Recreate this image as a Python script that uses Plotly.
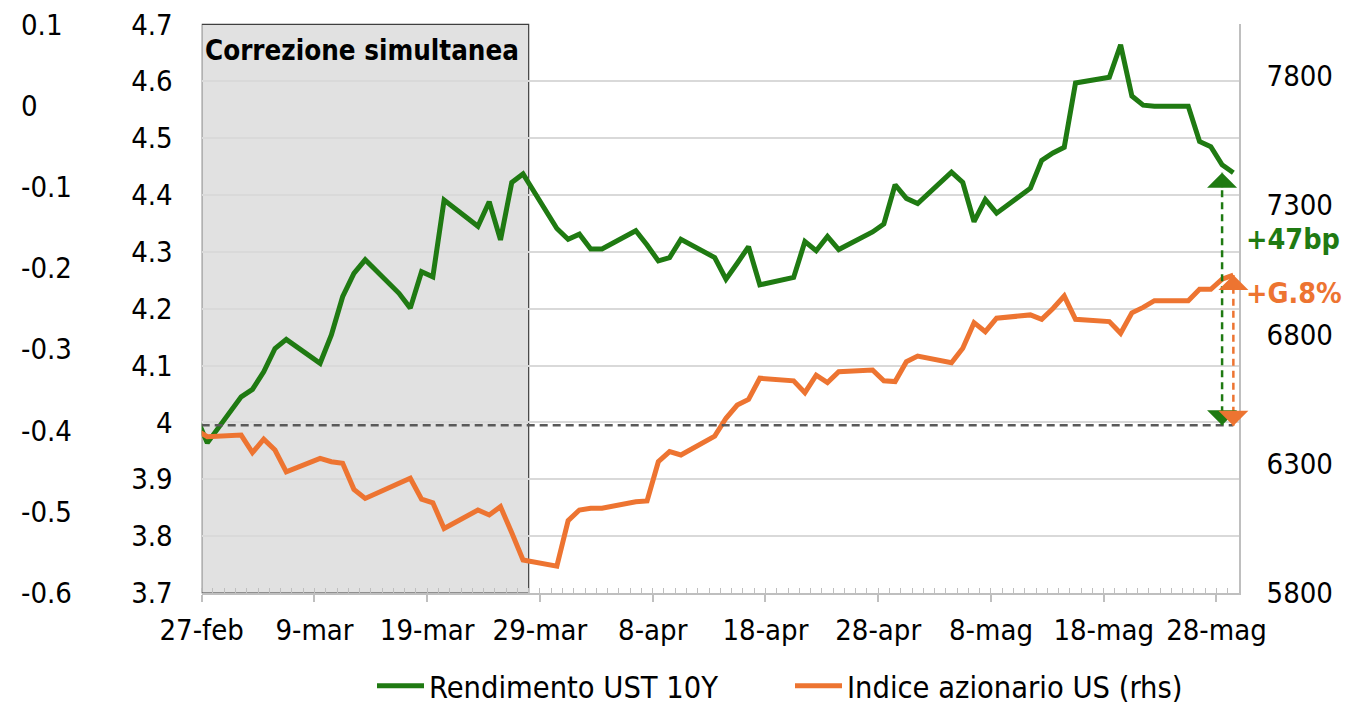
import pandas as pd
import plotly.graph_objects as go

# giorni di contrattazione 2026 (il 26-feb cade appena fuori dall'asse)
date = [
    "2026-02-26", "2026-02-27",
    "2026-03-02", "2026-03-03", "2026-03-04", "2026-03-05", "2026-03-06",
    "2026-03-09", "2026-03-10", "2026-03-11", "2026-03-12", "2026-03-13",
    "2026-03-16", "2026-03-17", "2026-03-18", "2026-03-19", "2026-03-20",
    "2026-03-23", "2026-03-24", "2026-03-25", "2026-03-26", "2026-03-27",
    "2026-03-30", "2026-03-31", "2026-04-01", "2026-04-02", "2026-04-03",
    "2026-04-06", "2026-04-07", "2026-04-08", "2026-04-09", "2026-04-10",
    "2026-04-13", "2026-04-14", "2026-04-15", "2026-04-16", "2026-04-17",
    "2026-04-20", "2026-04-21", "2026-04-22", "2026-04-23", "2026-04-24",
    "2026-04-27", "2026-04-28", "2026-04-29", "2026-04-30", "2026-05-01",
    "2026-05-04", "2026-05-05", "2026-05-06", "2026-05-07", "2026-05-08",
    "2026-05-11", "2026-05-12", "2026-05-13", "2026-05-14", "2026-05-15",
    "2026-05-18", "2026-05-19", "2026-05-20", "2026-05-21", "2026-05-22",
    "2026-05-25", "2026-05-26", "2026-05-27", "2026-05-28", "2026-05-29",
]

rendimento_ust10y = [
    4.010, 3.964,
    4.045, 4.058, 4.089, 4.130, 4.146,
    4.104, 4.154, 4.221, 4.262, 4.286,
    4.227, 4.201, 4.265, 4.256, 4.391,
    4.345, 4.388, 4.321, 4.422, 4.437,
    4.341, 4.322, 4.331, 4.305, 4.305,
    4.337, 4.312, 4.284, 4.290, 4.322,
    4.290, 4.252, 4.280, 4.309, 4.242,
    4.255, 4.318, 4.302, 4.327, 4.304,
    4.335, 4.349, 4.418, 4.394, 4.385,
    4.440, 4.422, 4.353, 4.392, 4.368,
    4.412, 4.461, 4.474, 4.484, 4.597,
    4.607, 4.664, 4.574, 4.558, 4.556,
    4.556, 4.494, 4.485, 4.453, 4.439,
]

indice_azionario_us = [
    6430, 6405,
    6411, 6343, 6395, 6353, 6269,
    6321, 6308, 6302, 6201, 6166,
    6225, 6244, 6163, 6149, 6050,
    6121, 6102, 6134, 6033, 5928,
    5904, 6080, 6121, 6128, 6128,
    6153, 6156, 6308, 6347, 6334,
    6407, 6476, 6527, 6549, 6631,
    6621, 6575, 6643, 6614, 6656,
    6663, 6621, 6618, 6695, 6717,
    6691, 6747, 6846, 6811, 6863,
    6876, 6859, 6901, 6949, 6859,
    6850, 6805, 6884, 6905, 6931,
    6931, 6975, 6975, 7014, 7030,
]

tick_date = ["2026-02-27", "2026-03-09", "2026-03-19", "2026-03-29", "2026-04-08",
             "2026-04-18", "2026-04-28", "2026-05-08", "2026-05-18", "2026-05-28"]
tick_etichette = ["27-feb", "9-mar", "19-mar", "29-mar", "8-apr",
                  "18-apr", "28-apr", "8-mag", "18-mag", "28-mag"]

asse_esterno_valori = [-0.6, -0.5, -0.4, -0.3, -0.2, -0.1, 0, 0.1]
asse_esterno_etichette = ["-0.6", "-0.5", "-0.4", "-0.3", "-0.2", "-0.1", "0", "0.1"]

periodo_correzione = ["2026-02-27", "2026-03-28"]
livello_riferimento = 3.995      # asse sinistro
livello_riferimento_rhs = 6447   # stesso livello sull'asse destro

VERDE = "#1f7a12"
ARANCIO = "#ed7431"
FONT = "DejaVu Sans Condensed, Liberation Sans, sans-serif"

# il body della pagina ha 8px di margine: le posizioni sono in pixel della finestra
W, H = 1349, 699


def fx(px):
    return (px - 8) / W


def fy(py):
    return (707 - py) / H


x = pd.to_datetime(date) + pd.Timedelta(hours=12)

fig = go.Figure()
fig.add_trace(go.Scatter(
    x=x, y=rendimento_ust10y, name="Rendimento UST 10Y",
    mode="lines", line=dict(color=VERDE, width=5),
))
fig.add_trace(go.Scatter(
    x=x, y=indice_azionario_us, name="Indice azionario US (rhs)",
    mode="lines", line=dict(color=ARANCIO, width=5), yaxis="y2",
))
# asse sinistro esterno, senza serie
fig.add_trace(go.Scatter(x=[x[1]], y=[None], yaxis="y3", showlegend=False,
                         hoverinfo="skip"))

# riquadro grigio "Correzione simultanea"
fig.add_shape(type="rect", xref="x", yref="paper",
              x0=periodo_correzione[0], x1=periodo_correzione[1],
              y0=fy(593), y1=fy(24.4),
              fillcolor="#e1e1e1", line=dict(color="#3f3f3f", width=1.2),
              layer="below")
fig.add_annotation(text="<b>Correzione simultanea</b>", xref="x", yref="paper",
                   x=periodo_correzione[0], y=fy(24.4), xanchor="left", yanchor="top",
                   xshift=1, yshift=-8, showarrow=False,
                   font=dict(size=27.5, color="black", family=FONT))

# linea tratteggiata di riferimento
fig.add_shape(type="line", xref="x", yref="y",
              x0=pd.Timestamp(periodo_correzione[0]), x1=x[-1],
              y0=livello_riferimento, y1=livello_riferimento,
              line=dict(color="#595959", width=2.5, dash="8px,5px"))

# frecce delle variazioni
x_freccia_verde = x[-2]
x_freccia_arancio = x[-1]
fig.add_shape(type="line", xref="x", yref="y",
              x0=x_freccia_verde, x1=x_freccia_verde,
              y0=livello_riferimento, y1=rendimento_ust10y[-1],
              line=dict(color=VERDE, width=2.5, dash="7px,5px"))
fig.add_shape(type="line", xref="x", yref="y2",
              x0=x_freccia_arancio, x1=x_freccia_arancio,
              y0=livello_riferimento_rhs, y1=indice_azionario_us[-1],
              line=dict(color=ARANCIO, width=2.5, dash="7px,5px"))

for xa, ya, yref, col, ay in [
    (x_freccia_verde, rendimento_ust10y[-1], "y", VERDE, 16),
    (x_freccia_verde, livello_riferimento, "y", VERDE, -16),
    (x_freccia_arancio, indice_azionario_us[-1], "y2", ARANCIO, 16),
    (x_freccia_arancio, livello_riferimento_rhs, "y2", ARANCIO, -16),
]:
    fig.add_annotation(x=xa, y=ya, xref="x", yref=yref, text="", showarrow=True,
                       ax=0, ay=ay, arrowhead=1, arrowsize=2.0, arrowwidth=2.5,
                       arrowcolor=col, standoff=0)

fig.add_annotation(text="<b>+47bp</b>", xref="paper", yref="paper",
                   x=fx(1244), y=fy(240), xanchor="left", yanchor="middle",
                   showarrow=False, font=dict(size=28.5, color=VERDE, family=FONT))
fig.add_annotation(text="<b>+G.8%</b>", xref="paper", yref="paper",
                   x=fx(1244), y=fy(293), xanchor="left", yanchor="middle",
                   showarrow=False, font=dict(size=28.5, color=ARANCIO, family=FONT))

fig.update_layout(
    width=W, height=H, autosize=False,
    margin=dict(l=0, r=0, t=0, b=0, pad=0, autoexpand=False),
    paper_bgcolor="white", plot_bgcolor="white",
    font=dict(family=FONT, size=29, color="black"),
    showlegend=True,
    legend=dict(orientation="h", x=fx(372), y=fy(686), xanchor="left", yanchor="middle",
                font=dict(size=30.5), itemwidth=47, entrywidth=356,
                bgcolor="rgba(0,0,0,0)", borderwidth=0,
                tracegroupgap=0),
    xaxis=dict(
        domain=[fx(201.7), fx(1239)], type="date",
        range=["2026-02-27", "2026-05-30"],
        tickmode="array", tickvals=tick_date, ticktext=tick_etichette,
        ticks="outside", ticklen=7, tickcolor="#bfbfbf", tickwidth=1.5,
        showgrid=False, showline=True, linecolor="#bfbfbf", linewidth=1.5,
        zeroline=False, automargin=False, ticklabelstandoff=3,
        minor=dict(tickmode="linear", tick0="2026-02-27", dtick=86400000,
                   ticks="inside", ticklen=5, tickcolor="#bfbfbf", tickwidth=1.2,
                   showgrid=False),
    ),
    yaxis=dict(
        domain=[fy(593), fy(24.4)], range=[3.7, 4.7], dtick=0.1, tick0=3.7,
        showgrid=True, gridcolor="#d9d9d9", gridwidth=1.5,
        zeroline=False, showline=False, ticks="", automargin=False,
        ticklabelstandoff=28, ticklabeloverflow="allow",
    ),
    yaxis2=dict(
        overlaying="y", side="right", anchor="x", range=[5800, 8000],
        tick0=5800, dtick=500, showgrid=False, zeroline=False,
        showline=True, linecolor="#bfbfbf", linewidth=1.5,
        ticks="outside", ticklen=20, tickcolor="rgba(0,0,0,0)",
        automargin=False, ticklabeloverflow="allow",
    ),
    yaxis3=dict(
        overlaying="y", side="right", anchor="free", position=fx(20),
        range=[-0.6, 0.1], tickmode="array", tickvals=asse_esterno_valori,
        ticktext=asse_esterno_etichette, showgrid=False, zeroline=False,
        showline=False, ticks="", automargin=False, ticklabeloverflow="allow",
    ),
)

fig.write_html("out.html", config={"displayModeBar": False})
